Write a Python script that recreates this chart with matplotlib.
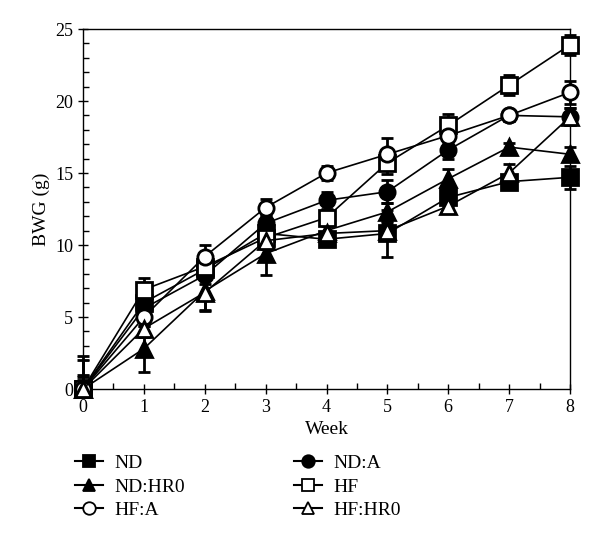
import numpy as np
import matplotlib.pyplot as plt
from matplotlib.ticker import MultipleLocator
from matplotlib.lines import Line2D

plt.rcParams['font.family'] = ['Liberation Serif', 'DejaVu Serif']

weeks = [0, 1, 2, 3, 4, 5, 6, 7, 8]

nd = [0, 6.0, 8.3, 10.8, 10.4, 10.8, 13.3, 14.4, 14.7]
nd_err = [1.0, 0.6, 0.6, 0.6, 0.5, 1.6, 0.6, 0.4, 0.8]

nd_a = [0, 5.6, 7.9, 11.5, 13.1, 13.7, 16.6, 19.0, 18.9]
nd_a_err = [0.8, 0.6, 0.6, 0.6, 0.6, 0.8, 0.6, 0.4, 0.6]

nd_hr0 = [0, 2.8, 6.8, 9.4, 11.0, 12.3, 14.6, 16.8, 16.3]
nd_hr0_err = [2.3, 1.6, 1.3, 1.5, 0.5, 0.6, 0.7, 0.3, 0.5]

hf = [0, 6.9, 8.5, 10.5, 11.9, 15.7, 18.3, 21.1, 23.9]
hf_err = [0.6, 0.8, 0.6, 0.5, 0.5, 0.8, 0.8, 0.7, 0.7]

hf_a = [0, 5.0, 9.2, 12.6, 15.0, 16.3, 17.6, 19.0, 20.6]
hf_a_err = [0.5, 0.6, 0.8, 0.6, 0.5, 1.1, 0.5, 0.4, 0.8]

hf_hr0 = [0, 4.2, 6.7, 10.3, 10.8, 11.0, 12.7, 15.0, 18.9]
hf_hr0_err = [2.0, 0.6, 1.3, 0.6, 0.5, 0.5, 0.5, 0.6, 0.6]

labels = ['ND', 'ND:A', 'ND:HR0', 'HF', 'HF:A', 'HF:HR0']
series = [nd, nd_a, nd_hr0, hf, hf_a, hf_hr0]
errs = [nd_err, nd_a_err, nd_hr0_err, hf_err, hf_a_err, hf_hr0_err]
markers = ['s', 'o', '^', 's', 'o', '^']
faces = ['black', 'black', 'black', 'white', 'white', 'white']

fig = plt.figure(figsize=(6, 5.59), dpi=100)
ax = fig.add_axes([83/600, 1-389/559, (570-83)/600, (389-29)/559])

for y, e, m, fc in zip(series, errs, markers, faces):
    lower = [0] + e[1:]   # no error below zero at week 0
    ax.errorbar(weeks, y, yerr=[lower, e], color='black', marker=m, markersize=11,
                markerfacecolor=fc, markeredgecolor='black', markeredgewidth=2,
                linewidth=1.2, elinewidth=2, capsize=4, capthick=2,
                clip_on=False, zorder=3)

ax.set_xlim(0, 8)
ax.set_ylim(0, 25)
ax.set_xticks(range(0, 9))
ax.set_yticks(range(0, 26, 5))
ax.xaxis.set_minor_locator(MultipleLocator(0.5))
ax.yaxis.set_minor_locator(MultipleLocator(1))
ax.tick_params(axis='both', which='major', direction='inout', length=7, width=1, labelsize=13)
ax.tick_params(axis='both', which='minor', direction='in', length=4, width=1)
ax.set_xlabel('Week', fontsize=14)
ax.set_ylabel('BWG (g)', fontsize=14)
for s in ax.spines.values():
    s.set_linewidth(1)

# legend order: left column ND, ND:HR0, HF:A ; right column ND:A, HF, HF:HR0
order = [0, 2, 4, 1, 3, 5]
handles = [Line2D([], [], color='black', marker=markers[i], markersize=9,
                  markerfacecolor=faces[i], markeredgecolor='black',
                  markeredgewidth=1.3, linewidth=1.5) for i in order]
fig.legend(handles, [labels[i] for i in order], ncol=2,
           loc='upper left', bbox_to_anchor=(0.095, 0.218), frameon=False,
           fontsize=14, handlelength=1.45, columnspacing=5.6, labelspacing=0.3,
           handletextpad=0.6)

plt.savefig('out.png')
